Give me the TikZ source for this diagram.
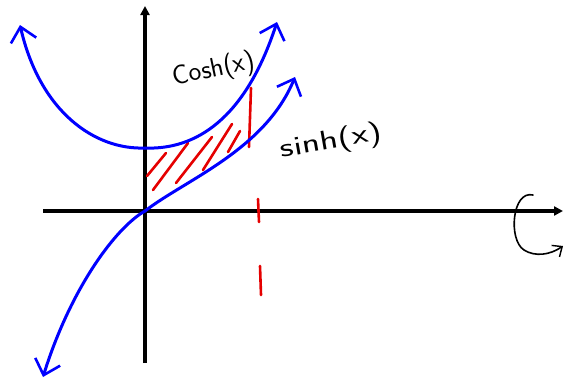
\documentclass[tikz,border=0pt]{standalone}
\usetikzlibrary{arrows.meta}

\tikzset{
  axis/.style={line width=3.5pt, -{Triangle[length=9pt,width=9pt]}},
  curve/.style={line width=3pt, blue, line cap=round,
    -{Straight Barb[length=14pt,width=26pt,line width=2.6pt]}},
  hatch/.style={line width=2.6pt, red!90!black, line cap=round},
  label/.style={font=\sffamily\fontsize{27}{29}\selectfont, inner sep=0pt}
}

\begin{document}
\begin{tikzpicture}[x=1pt, y=-1pt]

  \useasboundingbox (0,0) rectangle (565,381);

  % Axes
  \draw[axis] (43,211) -- (563,211);
  \draw[axis] (145,363) -- (145,6);

  % Shaded region between the curves
  \draw[hatch] (147,176) -- (166,153);
  \draw[hatch] (153,190) -- (188,143);
  \draw[hatch] (176,183) -- (212,137);
  \draw[hatch] (203,170) -- (232,124);
  \draw[hatch] (228,152) -- (240,131);
  \draw[hatch] (251,88) -- (249,147);

  % Dashed cut at the right end
  \draw[hatch] (258,199) -- (259,222);
  \draw[hatch] (260,266) -- (261,295);

  % cosh(x)
  \draw[curve] (145,148) .. controls (95,150) and (40,112) .. (20,25);
  \draw[curve] (145,148) .. controls (195,150) and (245,120) .. (277,22);

  % sinh(x)
  \draw[curve] (145,211) .. controls (185,180) and (265,150) .. (295,77);
  \draw[curve] (145,211) .. controls (115,228) and (70,290) .. (43,377);

  % Labels
  \node[label, rotate=12] (coshlabel) at (214,70) {Cosh(x)};
  \node[label, rotate=10, xscale=1.4] (sinhlabel) at (331,142) {sinh(x)};

  % Rotation about the x-axis
  \draw[line width=1.6pt, line cap=round,
    -{Straight Barb[length=8pt,width=14pt,line width=1.4pt]}]
    (533,195) .. controls (512,190) and (508,240) .. (524,250)
    .. controls (535,257) and (550,255) .. (563,246);

\end{tikzpicture}
\end{document}
